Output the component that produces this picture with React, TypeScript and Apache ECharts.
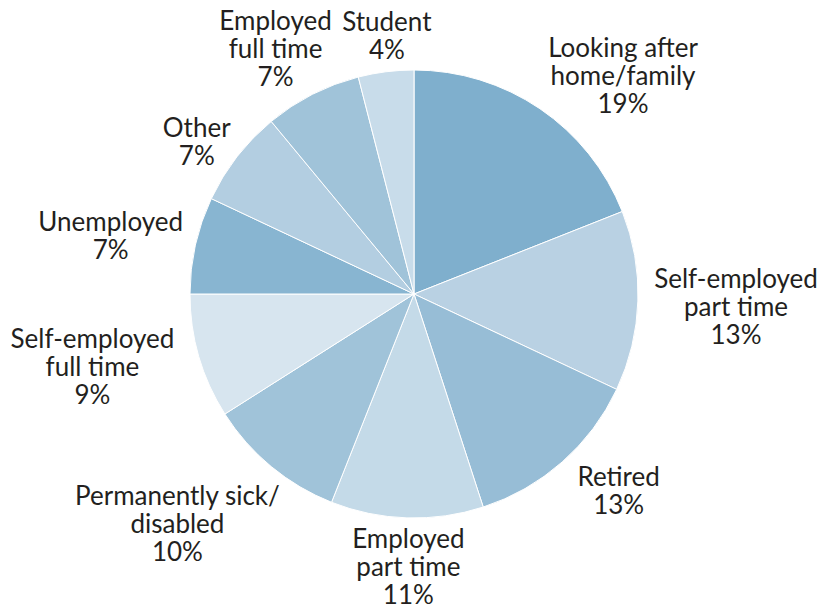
import React, { useEffect, useRef } from "react";
import * as echarts from "echarts";

const categories = [
  "Looking after\nhome/family",
  "Self-employed\npart time",
  "Retired",
  "Employed\npart time",
  "Permanently sick/\ndisabled",
  "Self-employed\nfull time",
  "Unemployed",
  "Other",
  "Employed\nfull time",
  "Student",
];
const values = [19, 13, 13, 11, 10, 9, 7, 7, 7, 4];
const colors = [
  "#7fafcd",
  "#b9d1e3",
  "#97bdd6",
  "#c4dae8",
  "#a0c3d9",
  "#d7e5ef",
  "#88b5d1",
  "#b3cee1",
  "#a0c3d9",
  "#c8dcea",
];

// layout: pie geometry and per-label fine nudges (pixels) from the automatic placement
const CX = 414;
const CY = 294;
const R = 224;
const GAP = 7;
const labelNudge: [number, number][] = [
  [36, 36],
  [8, 2],
  [20, -13],
  [3, -3],
  [-27, -24],
  [-13, -18],
  [-3, 8],
  [0, 16],
  [-5, 16],
  [6, 3],
];

export default function App() {
  const ref = useRef<HTMLDivElement>(null);
  useEffect(() => {
    document.body.style.margin = "0";
    const chart = echarts.init(ref.current!, null, { renderer: "svg" });
    const total = values.reduce((a, b) => a + b, 0);
    const mids: number[] = [];
    let cum = 0;
    values.forEach((v) => {
      mids.push(((cum + v / 2) / total) * Math.PI * 2);
      cum += v;
    });
    chart.setOption({
      animation: false,
      series: [
        {
          type: "pie",
          center: [CX, CY],
          radius: [0, R],
          startAngle: 90,
          clockwise: true,
          avoidLabelOverlap: false,
          itemStyle: { borderColor: "#ffffff", borderWidth: 1 },
          emphasis: { disabled: true },
          label: {
            show: true,
            position: "outside",
            formatter: (p: any) => `${p.name}\n${p.value}%`,
            fontFamily: "Lato",
            fontSize: 26,
            lineHeight: 28,
            color: "#231f20",
            align: "center",
          },
          labelLine: { show: false },
          labelLayout: (params: any) => {
            const i = params.dataIndex;
            const t = mids[i];
            const w = params.labelRect.width;
            const h = params.labelRect.height;
            const s = Math.sin(t);
            const c = Math.cos(t);
            const d = R + GAP + Math.abs(s) * (w / 2) + Math.abs(c) * (h / 2);
            return {
              x: CX + d * s + labelNudge[i][0],
              y: CY - d * c + labelNudge[i][1],
              align: "center",
              verticalAlign: "middle",
            };
          },
          data: categories.map((name, i) => ({
            name,
            value: values[i],
            itemStyle: { color: colors[i] },
          })),
        },
      ],
    });
    return () => chart.dispose();
  }, []);
  return <div ref={ref} style={{ width: 819, height: 607 }} />;
}
